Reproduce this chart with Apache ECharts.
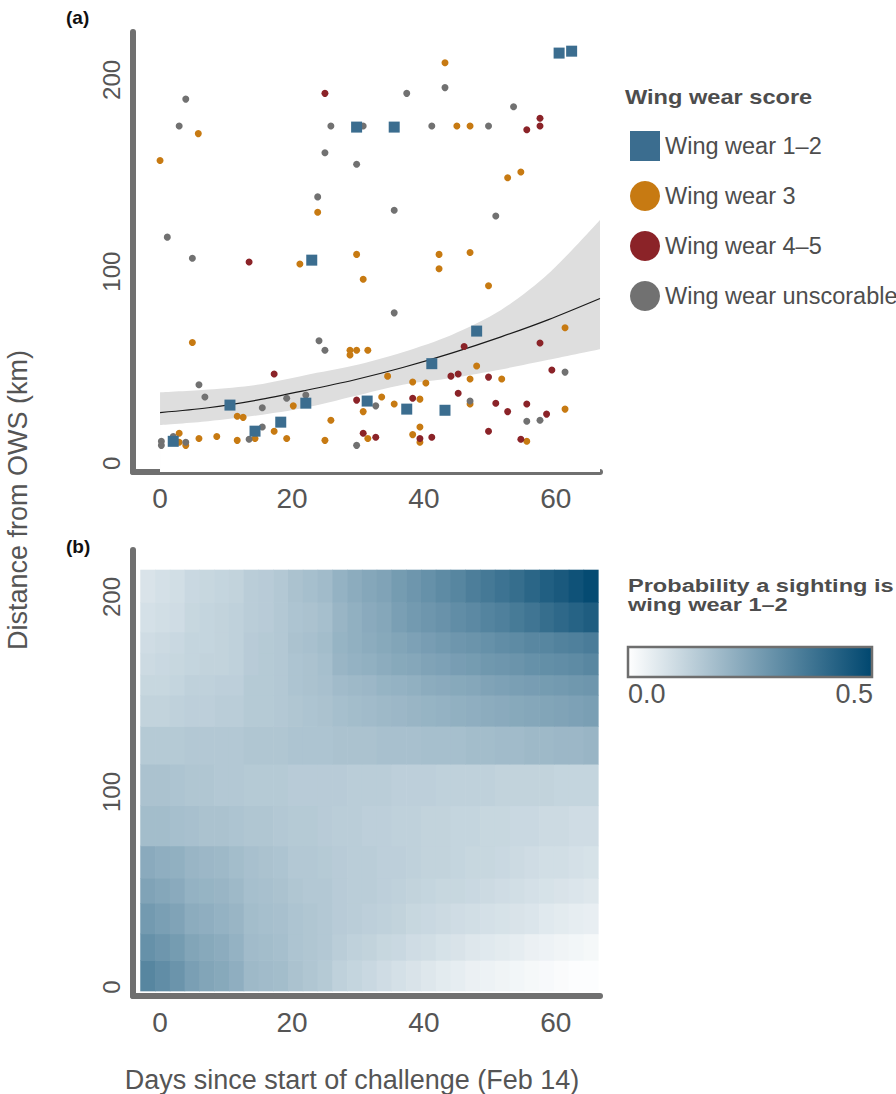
<!DOCTYPE html>
<html><head><meta charset="utf-8">
<script src="https://cdn.jsdelivr.net/npm/echarts@6/dist/echarts.min.js"></script>
<style>html,body{margin:0;padding:0;background:#fff}#c{width:896px;height:1094px}</style>
</head><body><div id="c"></div>
<script>
const FONT = "'Liberation Sans', Arial, Helvetica, sans-serif";
const TXT = '#555555';

// ---------- Panel (a) data: sightings (day since Feb 14, km from OWS) ----------
const wear12Days = [29.8, 35.5, 60.5, 62.4, 23.0, 10.6, 22.1, 31.4, 18.3, 14.4, 2.0, 48.0, 41.2, 37.4, 43.2];
const wear12Km   = [175.4, 175.4, 214, 215, 106, 30.4, 31.4, 32.5, 21.5, 16.8, 11.5, 69, 52, 28.3, 27.7];

const wear3Days = [0.0, 5.8, 23.9, 43.2, 45.0, 47.0, 54.7, 52.7, 21.2, 29.8, 30.8, 4.9, 28.8, 29.8, 28.8, 31.5,
  20.2, 30.8, 11.7, 12.6, 25.9, 17.3, 2.9, 5.9, 8.6, 11.7, 14.4, 19.2, 25.0, 2.9, 3.9, 31.5,
  42.3, 47.0, 42.3, 49.8, 61.4, 48.0, 34.5, 38.3, 40.3, 47.0, 51.8, 33.6, 35.5, 39.4, 47.0, 61.4,
  38.3, 39.4, 39.4, 55.6];
const wear3Km = [158, 172, 131, 209, 176, 176, 152, 149, 104, 109, 96, 63, 59, 59, 56.5, 59,
  30, 27, 24.6, 24, 22.5, 16.8, 15.7, 13, 14, 12, 13, 13, 12, 11, 9.4, 13,
  109, 110, 101.5, 92.6, 70.7, 50.8, 45.5, 42.4, 41.9, 44, 44, 34.6, 31, 33.5, 31, 28.3,
  15, 19, 11, 11.5];

const wear45Days = [25.0, 57.6, 57.6, 55.6, 13.5, 17.3, 29.8, 30.8, 46.1, 57.6, 44.1, 45.2, 49.8, 59.4,
  38.3, 45.2, 50.9, 52.7, 55.6, 58.6, 32.7, 39.4, 41.2, 49.8, 54.7];
const wear45Km = [193, 180, 176, 174, 105, 46.6, 33, 15.7, 61, 62.8, 45.5, 46.6, 45, 48.7,
  34, 36.6, 31.4, 27, 31, 25.7, 13.6, 13, 13.6, 16.8, 12.6];

const unscDays = [3.9, 2.9, 1.1, 25.9, 30.8, 25.0, 29.8, 23.9, 43.2, 37.4, 53.6, 49.8, 41.2, 35.5, 50.9,
  4.9, 24.1, 25.0, 5.9, 6.8, 15.5, 19.2, 22.1, 15.5, 13.5, 0.2, 0.2, 2.0, 3.9, 29.8, 35.5, 61.4,
  32.7, 47.0, 57.6, 55.6];
const unscKm = [190, 176, 118, 176, 176, 162, 156, 139, 196, 193, 186, 176, 176, 132, 129,
  107, 64, 59, 41, 34.6, 29, 34, 35.6, 19, 12.6, 11.5, 9.4, 14, 11, 9.4, 78.5, 47.6,
  30, 32.5, 22.5, 22];

// fitted trend and its confidence band
const fitDays = [0, 7.3, 14.7, 22, 29.4, 36.8, 44.2, 51.7, 58.9, 66.7];
const fitKm   = [26.5, 29, 33, 38, 43.5, 50, 57.5, 66, 75, 86];
const bandLo  = [20, 22, 25, 29, 35, 41, 44.5, 49, 54, 59.5];
const bandHi  = [37, 38.5, 41, 46, 51, 58, 67, 80, 99, 127];

// ---------- Panel (b) data: predicted probability grid ----------
const dayEdges = [-3.0, -0.76, 1.48, 3.72, 5.96, 8.2, 10.44, 12.68, 14.92, 17.16, 19.4, 21.64, 23.88, 26.12,
  28.36, 30.6, 32.84, 35.08, 37.32, 39.56, 41.8, 44.04, 46.28, 48.52, 50.76, 53.0, 55.24, 57.48, 59.72,
  61.96, 64.2, 66.4];
const kmEdges = [-1.9, 13.8, 27.4, 43.1, 55.9, 72.5, 93.1, 114.4, 133.8, 149.8, 160.2, 171.4, 182.2, 197.4, 214.0];
const probRows = [
 [.33,.31,.29,.26,.245,.235,.22,.19,.185,.18,.165,.155,.145,.125,.115,.105,.095,.085,.075,.065,.055,.05,.04,.035,.03,.025,.02,.015,.01,.005,.005],
 [.30,.285,.27,.245,.235,.225,.21,.185,.18,.175,.16,.155,.15,.135,.125,.12,.11,.105,.095,.09,.08,.075,.065,.06,.055,.05,.04,.035,.03,.025,.02],
 [.275,.26,.25,.225,.22,.21,.20,.18,.175,.17,.16,.155,.15,.14,.135,.13,.125,.12,.11,.105,.10,.095,.09,.085,.08,.075,.07,.06,.055,.05,.045],
 [.25,.24,.23,.21,.205,.20,.19,.175,.17,.165,.155,.15,.15,.14,.135,.135,.13,.125,.12,.115,.11,.11,.105,.10,.095,.09,.085,.08,.075,.07,.065],
 [.23,.22,.215,.20,.195,.19,.18,.17,.165,.16,.15,.15,.145,.14,.135,.135,.13,.13,.125,.12,.12,.115,.11,.11,.105,.10,.095,.09,.09,.085,.08],
 [.18,.18,.175,.17,.165,.165,.16,.155,.155,.15,.145,.145,.14,.135,.135,.13,.13,.125,.125,.12,.12,.115,.115,.11,.11,.105,.105,.10,.10,.095,.095],
 [.165,.165,.16,.155,.155,.15,.15,.145,.145,.145,.14,.14,.14,.14,.135,.135,.135,.13,.13,.13,.125,.125,.125,.125,.12,.12,.12,.12,.115,.115,.115],
 [.145,.145,.145,.15,.15,.15,.15,.155,.155,.155,.16,.16,.16,.165,.165,.165,.17,.17,.17,.175,.175,.175,.18,.18,.185,.185,.19,.19,.195,.195,.20],
 [.12,.12,.125,.13,.13,.135,.135,.145,.145,.15,.155,.16,.165,.175,.18,.185,.19,.195,.20,.205,.21,.215,.22,.225,.23,.235,.24,.245,.25,.255,.26],
 [.11,.11,.115,.125,.125,.13,.13,.145,.145,.15,.16,.165,.17,.185,.19,.195,.205,.21,.215,.225,.23,.235,.24,.25,.255,.26,.265,.27,.275,.28,.285],
 [.10,.105,.11,.115,.12,.12,.125,.14,.145,.15,.16,.165,.175,.20,.21,.215,.225,.235,.24,.25,.255,.265,.27,.28,.285,.29,.30,.305,.31,.315,.325],
 [.095,.10,.105,.115,.115,.12,.125,.14,.145,.15,.165,.17,.18,.205,.215,.225,.235,.245,.255,.265,.275,.285,.29,.30,.31,.315,.325,.33,.34,.345,.355],
 [.085,.09,.095,.11,.115,.12,.125,.135,.14,.15,.16,.165,.175,.20,.215,.23,.24,.26,.275,.285,.295,.31,.32,.335,.345,.36,.375,.395,.41,.425,.44],
 [.075,.085,.09,.105,.11,.115,.12,.135,.14,.15,.165,.175,.185,.21,.225,.24,.25,.27,.285,.30,.315,.33,.35,.365,.38,.395,.415,.435,.45,.47,.49]
];

// tick labels
const xTickLabels = [0, 20, 40, 60];
const yTickLabels = [0, 100, 200];
const probMin = 0, probMax = 0.5;
const RAMP = ['#ffffff', '#00476f'];

// ---------- build ----------
const zip = (a, b) => a.map((v, i) => [v, b[i]]);
const heatData = [];
for (let r = 0; r < probRows.length; r++)
  for (let c = 0; c < dayEdges.length - 1; c++)
    heatData.push([dayEdges[c], dayEdges[c + 1], kmEdges[r], kmEdges[r + 1], probRows[r][c]]);

function xAx(gi) {
  return { type: 'value', gridIndex: gi, min: -4.1, max: 66.7,
    axisLine: { show: true, onZero: false, lineStyle: { color: '#707070', width: 6 } },
    axisTick: { show: false }, splitLine: { show: false },
    axisLabel: { fontSize: 28, color: TXT, margin: 12, fontFamily: FONT,
      formatter: v => xTickLabels.includes(v) ? String(v) : '' } };
}
function yAx(gi, min, max) {
  return { type: 'value', gridIndex: gi, min: min, max: max,
    axisLine: { show: true, onZero: false, lineStyle: { color: '#707070', width: 6 } },
    axisTick: { show: false }, splitLine: { show: false },
    axisLabel: { fontSize: 24, color: TXT, margin: 10, rotate: 90, fontFamily: FONT,
      formatter: v => yTickLabels.includes(v) ? String(v) : '' } };
}

const chart = echarts.init(document.getElementById('c'), null, { renderer: 'svg' });
chart.setOption({
  animation: false,
  backgroundColor: '#ffffff',
  grid: [
    { left: 133, right: 296, top: 32, bottom: 622 },
    { left: 133, right: 296, top: 550, bottom: 98 }
  ],
  xAxis: [xAx(0), xAx(1)],
  yAxis: [yAx(0, -4.5, 225), yAx(1, -4.6, 224.1)],
  legend: {
    orient: 'vertical', left: 625, top: 126, itemWidth: 30, itemHeight: 30, itemGap: 20,
    selectedMode: false,
    textStyle: { fontSize: 23.5, color: '#4d4d4d', fontFamily: FONT },
    data: [
      { name: 'Wing wear 1–2', icon: 'rect' },
      { name: 'Wing wear 3', icon: 'circle' },
      { name: 'Wing wear 4–5', icon: 'circle' },
      { name: 'Wing wear unscorable', icon: 'circle' }
    ]
  },
  visualMap: {
    type: 'continuous', show: false, seriesIndex: 7, dimension: 4, min: probMin, max: probMax,
    inRange: { color: RAMP }
  },
  graphic: [
    { type: 'text', x: 66, y: 8, style: { text: '(a)', fontSize: 19, fontWeight: 'bold', fill: '#111', fontFamily: FONT } },
    { type: 'text', x: 66, y: 537, style: { text: '(b)', fontSize: 19, fontWeight: 'bold', fill: '#111', fontFamily: FONT } },
    { type: 'text', x: 18, y: 500, rotation: Math.PI / 2,
      style: { text: 'Distance from OWS (km)', fontSize: 27, fill: TXT, fontFamily: FONT, align: 'center', verticalAlign: 'middle' } },
    { type: 'text', x: 352, y: 1080,
      style: { text: 'Days since start of challenge (Feb 14)', fontSize: 27, fill: TXT, fontFamily: FONT, align: 'center', verticalAlign: 'middle' } },
    { type: 'text', x: 625, y: 97, scaleX: 1.18,
      style: { text: 'Wing wear score', fontSize: 20, fontWeight: 'bold', fill: '#4d4d4d', fontFamily: FONT, verticalAlign: 'middle' } },
    { type: 'text', x: 628, y: 576, scaleX: 1.24,
      style: { text: 'Probability a sighting is\nwing wear 1–2', fontSize: 19, lineHeight: 19, fontWeight: 'bold', fill: '#4d4d4d', fontFamily: FONT } },
    { type: 'rect', shape: { x: 628, y: 647, width: 244, height: 30 },
      style: { fill: new echarts.graphic.LinearGradient(0, 0, 1, 0, [{ offset: 0, color: RAMP[0] }, { offset: 1, color: RAMP[1] }]),
        stroke: '#6e6e6e', lineWidth: 2.5 }, z: 100 },
    { type: 'text', x: 628, y: 694, style: { text: probMin.toFixed(1), fontSize: 27, fill: TXT, fontFamily: FONT, verticalAlign: 'middle' } },
    { type: 'text', x: 873, y: 694, style: { text: probMax.toFixed(1), fontSize: 27, fill: TXT, fontFamily: FONT, align: 'right', verticalAlign: 'middle' } }
  ],
  series: [
    { type: 'line', xAxisIndex: 0, yAxisIndex: 0, data: zip(fitDays, bandHi), symbol: 'none', smooth: 0.3,
      lineStyle: { width: 0, opacity: 0 }, areaStyle: { color: '#dedede', opacity: 1, origin: 'start' }, silent: true, z: 1 },
    { type: 'line', xAxisIndex: 0, yAxisIndex: 0, data: zip(fitDays, bandLo), symbol: 'none', smooth: 0.3,
      lineStyle: { width: 0, opacity: 0 }, areaStyle: { color: '#ffffff', opacity: 1, origin: 'start' }, silent: true, z: 1 },
    { type: 'line', xAxisIndex: 0, yAxisIndex: 0, data: zip(fitDays, fitKm), symbol: 'none', smooth: 0.3,
      lineStyle: { color: '#1a1a1a', width: 1.2 }, silent: true, z: 2 },
    { name: 'Wing wear 3', type: 'scatter', xAxisIndex: 0, yAxisIndex: 0, data: zip(wear3Days, wear3Km),
      symbol: 'circle', symbolSize: 7, itemStyle: { color: '#c77a12', opacity: 1 }, z: 4 },
    { name: 'Wing wear 4–5', type: 'scatter', xAxisIndex: 0, yAxisIndex: 0, data: zip(wear45Days, wear45Km),
      symbol: 'circle', symbolSize: 7, itemStyle: { color: '#8b2328', opacity: 1 }, z: 4 },
    { name: 'Wing wear unscorable', type: 'scatter', xAxisIndex: 0, yAxisIndex: 0, data: zip(unscDays, unscKm),
      symbol: 'circle', symbolSize: 7, itemStyle: { color: '#717171', opacity: 1 }, z: 4 },
    { name: 'Wing wear 1–2', type: 'scatter', xAxisIndex: 0, yAxisIndex: 0, data: zip(wear12Days, wear12Km),
      symbol: 'rect', symbolSize: 11, itemStyle: { color: '#3b6d8f', opacity: 1 }, z: 5 },
    { type: 'custom', coordinateSystem: 'cartesian2d', xAxisIndex: 1, yAxisIndex: 1, data: heatData,
      encode: { x: [0, 1], y: [2, 3] }, silent: true, z: 1,
      renderItem: function (params, api) {
        const a = api.coord([api.value(0), api.value(3)]);
        const b = api.coord([api.value(1), api.value(2)]);
        return { type: 'rect', shape: { x: a[0], y: a[1], width: b[0] - a[0] + 0.6, height: b[1] - a[1] + 0.6 },
          style: { fill: api.visual('color') } };
      } }
  ]
});
</script></body></html>
